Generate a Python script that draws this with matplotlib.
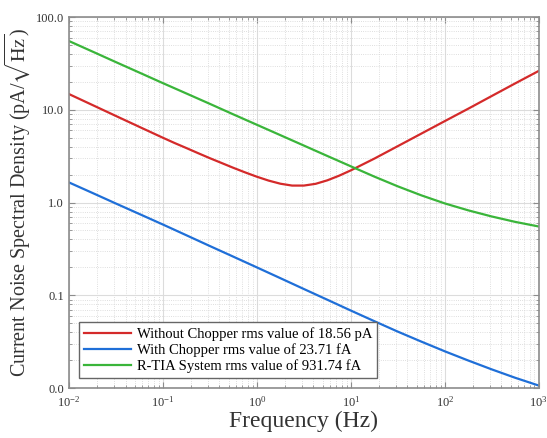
import matplotlib
matplotlib.use("Agg")
import matplotlib.pyplot as plt
from matplotlib.ticker import FuncFormatter, LogLocator, NullFormatter

plt.rcParams['font.family'] = ['Liberation Serif', 'DejaVu Serif']
plt.rcParams['mathtext.fontset'] = 'stix'

# 数据
freq = [0.01, 0.0178, 0.0316, 0.0562, 0.1, 0.178, 0.316, 0.562, 1.0,
        1.78, 3.16, 5.62, 10, 17.8, 31.6, 56.2, 100, 178, 316, 562, 1000]

red_freq = [0.01, 0.0178, 0.0316, 0.0562, 0.1, 0.133, 0.178, 0.237, 0.316,
            0.422, 0.562, 0.75, 1.0, 1.33, 1.78, 2.37, 3.16, 4.22, 5.62, 7.5,
            10, 17.8, 31.6, 56.2, 100, 178, 316, 562, 1000]
without_chopper = [14.8, 11.27, 8.59, 6.55, 5.0, 4.39, 3.87, 3.41, 3.01,
                   2.67, 2.37, 2.115, 1.90, 1.727, 1.597, 1.525, 1.525, 1.593, 1.737, 1.949,
                   2.225, 2.98, 4.06, 5.54, 7.56, 10.3, 14.1, 19.3, 26.3]

with_chopper = [1.65, 1.27, 0.977, 0.753, 0.58, 0.444, 0.340, 0.261, 0.200,
                0.153, 0.117, 0.0896, 0.0685, 0.0526, 0.0406, 0.0317, 0.0249,
                0.0198, 0.0159, 0.0129, 0.01064]

rtia = [55.2, 42.5, 32.7, 25.2, 19.4, 15.0, 11.6, 8.93, 6.9,
        5.33, 4.12, 3.18, 2.46, 1.905, 1.496, 1.197, 0.979, 0.824, 0.708, 0.619, 0.552]

labels = ["Without Chopper rms value of 18.56 pA",
          "With Chopper rms value of 23.71 fA",
          "R-TIA System rms value of 931.74 fA"]

fig = plt.figure(figsize=(5.47, 4.38), dpi=100)
ax = fig.add_axes([0.126, 0.114, 0.859, 0.847])

ax.plot(red_freq, without_chopper, color='#d42a2a', lw=1.6, label=labels[0])
ax.plot(freq, with_chopper, color='#1f6fd8', lw=1.6, label=labels[1])
ax.plot(freq, rtia, color='#3ab53a', lw=1.6, label=labels[2])

ax.set_xscale('log')
ax.set_yscale('log')
ax.set_xlim(1e-2, 1e3)
ax.set_ylim(1e-2, 1e2)

ax.xaxis.set_major_locator(LogLocator(base=10, numticks=10))
ax.xaxis.set_minor_locator(LogLocator(base=10, subs=range(2, 10), numticks=100))
ax.yaxis.set_major_locator(LogLocator(base=10, numticks=10))
ax.yaxis.set_minor_locator(LogLocator(base=10, subs=range(2, 10), numticks=100))
ax.yaxis.set_major_formatter(FuncFormatter(lambda v, p: "{:.1f}".format(v)))
ax.yaxis.set_minor_formatter(NullFormatter())

ax.grid(which='major', color='#dcdcdc', lw=0.8, ls='-')
ax.grid(which='minor', color='#d4d4d4', lw=0.6, ls=':')

for s in ax.spines.values():
    s.set_color('#8c8c8c')
    s.set_linewidth(1.2)
ax.tick_params(which='both', direction='in', top=True, right=True, colors='#8c8c8c',
               labelcolor='#333333', labelsize=9)
ax.tick_params(which='major', length=4)
ax.tick_params(which='minor', length=2)
ax.tick_params(axis='x', which='major', pad=5)

ax.set_xlabel("Frequency (Hz)", fontsize=17, color='#333333', labelpad=1)
ax.set_ylabel(r"Current Noise Spectral Density (pA/$\sqrt{\mathrm{Hz}}$)", fontsize=14.5,
              color='#333333', labelpad=3)

leg = ax.legend(loc='lower left', fontsize=10.5, fancybox=False, framealpha=1,
                edgecolor='#666666', borderaxespad=0.7, handlelength=3.2,
                handletextpad=0.4, labelspacing=0.15, borderpad=0.35)
leg.get_frame().set_linewidth(1.0)

fig.savefig("out.png", dpi=100)
